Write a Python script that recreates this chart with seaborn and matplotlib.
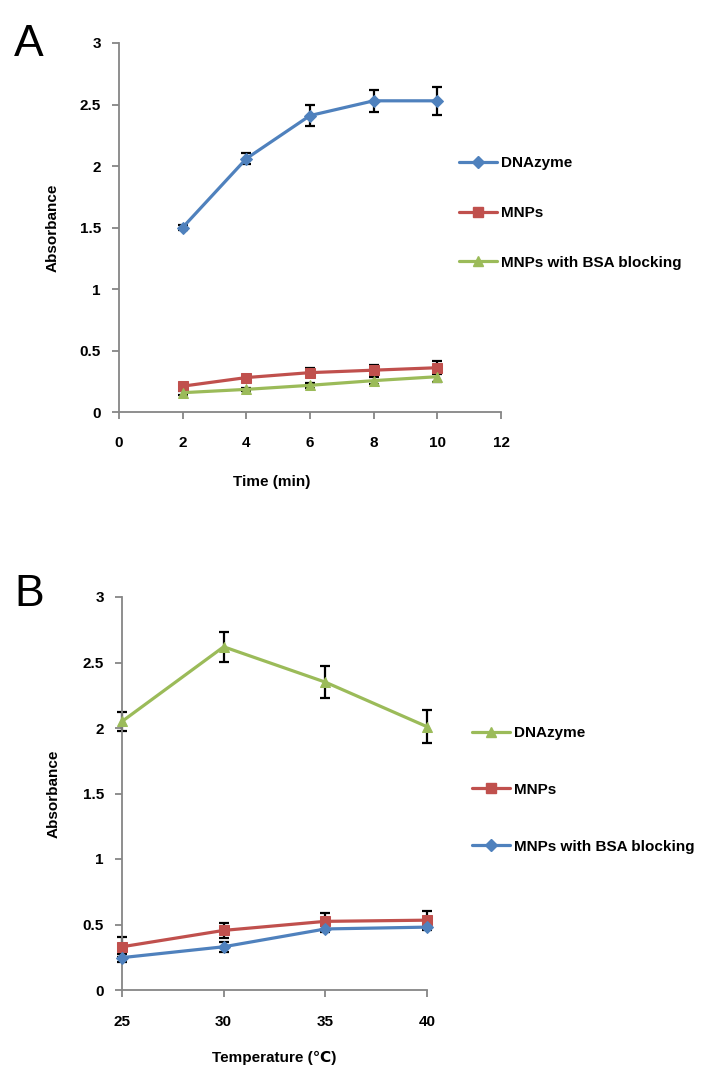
import seaborn as sns
import matplotlib.pyplot as plt
from matplotlib.lines import Line2D

# Panel A: absorbance vs time
time_min = [2, 4, 6, 8, 10]
a_dnazyme = [1.50, 2.06, 2.41, 2.53, 2.53]
a_dnazyme_err = [0.02, 0.045, 0.085, 0.088, 0.115]
a_mnps = [0.21, 0.28, 0.32, 0.34, 0.36]
a_mnps_err = [0.02, 0.02, 0.035, 0.046, 0.054]
a_bsa = [0.157, 0.184, 0.217, 0.255, 0.287]
a_bsa_err = [0.015, 0.015, 0.02, 0.03, 0.04]

# Panel B: absorbance vs temperature
temp_c = [25, 30, 35, 40]
b_dnazyme = [2.05, 2.62, 2.35, 2.01]
b_dnazyme_err = [0.07, 0.115, 0.12, 0.125]
b_mnps = [0.33, 0.455, 0.524, 0.533]
b_mnps_err = [0.076, 0.06, 0.064, 0.069]
b_bsa = [0.247, 0.33, 0.466, 0.48]
b_bsa_err = [0.03, 0.04, 0.02, 0.02]

labels = ["DNAzyme", "MNPs", "MNPs with BSA blocking"]
y_ticks = [0, 0.5, 1, 1.5, 2, 2.5, 3]
y_ticklabels = ["0", "0.5", "1", "1.5", "2", "2.5", "3"]
a_xticks = [0, 2, 4, 6, 8, 10, 12]
b_xticks = [25, 30, 35, 40]

BLUE = "#4F81BD"
RED = "#C0504D"
GREEN = "#9BBB59"
AXC = "#868686"

sns.set_style("white")
plt.rcParams["font.family"] = ["Liberation Sans", "DejaVu Sans"]
plt.rcParams["font.weight"] = "bold"
plt.rcParams["text.color"] = "black"
plt.rcParams["axes.labelcolor"] = "black"
plt.rcParams["xtick.labelcolor"] = "black"
plt.rcParams["ytick.labelcolor"] = "black"

fig = plt.figure(figsize=(7.02, 10.68), dpi=100)
axA = fig.add_axes([119 / 702, 1 - 412 / 1068, 382 / 702, 369 / 1068])
axB = fig.add_axes([122 / 702, 1 - 990 / 1068, 305 / 702, 393 / 1068])

def draw_series(ax, x, y, err, color, marker, ms):
    ax.errorbar(x, y, yerr=err, fmt="none", ecolor="black", elinewidth=1.6,
                capsize=3.5, capthick=1.6, zorder=2, clip_on=False)
    sns.lineplot(x=x, y=y, ax=ax, color=color, marker=marker, markersize=ms,
                 markeredgecolor=color, linewidth=2.3, zorder=3, clip_on=False)

draw_series(axA, time_min, a_dnazyme, a_dnazyme_err, BLUE, "D", 6)
draw_series(axA, time_min, a_mnps, a_mnps_err, RED, "s", 6.5)
draw_series(axA, time_min, a_bsa, a_bsa_err, GREEN, "^", 7.5)

draw_series(axB, temp_c, b_dnazyme, b_dnazyme_err, GREEN, "^", 7.5)
draw_series(axB, temp_c, b_mnps, b_mnps_err, RED, "s", 6.5)
draw_series(axB, temp_c, b_bsa, b_bsa_err, BLUE, "D", 6)

def style_axis(ax, xticks, xlim, xpad):
    ax.set_xlim(*xlim)
    ax.set_ylim(0, 3)
    ax.set_xticks(xticks)
    ax.set_xticklabels([str(t) for t in xticks])
    ax.set_yticks(y_ticks)
    ax.set_yticklabels(y_ticklabels)
    for s in ["top", "right"]:
        ax.spines[s].set_visible(False)
    for s in ["left", "bottom"]:
        ax.spines[s].set_color(AXC)
        ax.spines[s].set_linewidth(1.3)
    ax.tick_params(direction="out", length=5, width=1.3, color=AXC,
                   labelsize=11, pad=8, left=True, bottom=True, labelcolor="black")
    ax.tick_params(axis="x", pad=xpad)
    for lab in ax.get_xticklabels() + ax.get_yticklabels():
        lab.set_fontweight("bold")

style_axis(axA, a_xticks, (0, 12), 12)
style_axis(axB, b_xticks, (25, 40), 13)

axA.set_xlabel("Time (min)", fontsize=11, fontweight="bold")
axA.set_ylabel("Absorbance", fontsize=11, fontweight="bold")
axA.xaxis.set_label_coords(0.40, -0.17)
axA.yaxis.set_label_coords(-0.155, 0.5)

axB.set_xlabel("Temperature (\u2103)", fontsize=11, fontweight="bold")
axB.set_ylabel("Absorbance", fontsize=11, fontweight="bold")
axB.xaxis.set_label_coords(0.50, -0.155)
axB.yaxis.set_label_coords(-0.20, 0.5)

def handle(color, marker, ms):
    return Line2D([], [], color=color, marker=marker, markersize=ms,
                  markeredgecolor=color, linewidth=2.3)

hA = [handle(BLUE, "D", 6), handle(RED, "s", 6.5), handle(GREEN, "^", 7.5)]
hB = [handle(GREEN, "^", 7.5), handle(RED, "s", 6.5), handle(BLUE, "D", 6)]

legA = fig.legend(hA, labels, loc="upper left", bbox_to_anchor=(459 / 702, 1 - 156 / 1068),
                  frameon=False, borderpad=0, borderaxespad=0, handlelength=2.5,
                  handletextpad=0.25, labelspacing=2.35, prop={"size": 11, "weight": "bold"})
legB = fig.legend(hB, labels, loc="upper left", bbox_to_anchor=(472 / 702, 1 - 726 / 1068),
                  frameon=False, borderpad=0, borderaxespad=0, handlelength=2.5,
                  handletextpad=0.25, labelspacing=2.8, prop={"size": 11, "weight": "bold"})

fig.text(14 / 702, 1 - 56 / 1068, "A", fontsize=32, fontweight="normal")
fig.text(14 / 702, 1 - 606 / 1068, "B", fontsize=32, fontweight="normal")

fig.savefig("out.png", dpi=100)
